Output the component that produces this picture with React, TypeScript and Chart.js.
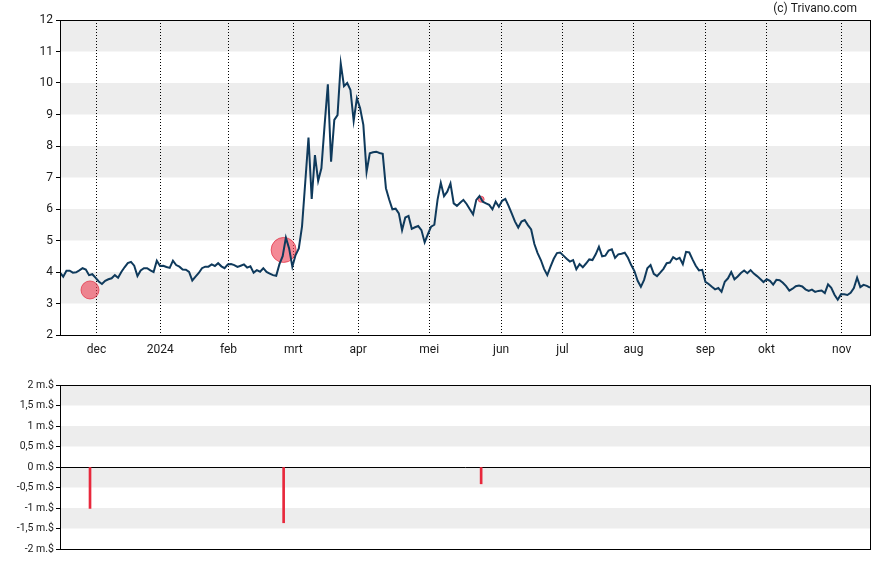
import React, { useEffect, useRef } from "react";
import { Chart, registerables } from "chart.js";

Chart.register(...registerables);

// Daily closing prices (trading days, mid-Nov 2023 .. mid-Nov 2024)
const prices: number[] = [
  3.98, 3.85, 4.04, 4.04, 3.98, 3.99, 4.05, 4.12, 4.08, 3.9,
  3.93, 3.82, 3.7, 3.62, 3.72, 3.77, 3.8, 3.9, 3.82, 4.0,
  4.15, 4.28, 4.32, 4.2, 3.87, 4.05, 4.12, 4.12, 4.05, 4.0,
  4.36, 4.19, 4.2, 4.16, 4.13, 4.36, 4.22, 4.17, 4.08, 4.07,
  4.0, 3.73, 3.85, 3.97, 4.12, 4.17, 4.17, 4.24, 4.19, 4.28,
  4.18, 4.12, 4.24, 4.25, 4.22, 4.16, 4.2, 4.24, 4.14, 4.18,
  3.98, 4.06, 4.01, 4.12, 4.0, 3.95, 3.9, 3.88, 4.25, 4.5,
  5.09, 4.75, 4.17, 4.54, 4.75, 5.45, 6.85, 8.27, 6.32, 7.71,
  6.89, 7.29, 8.67, 9.96, 7.5, 8.83, 8.98, 10.62, 9.9, 10.0,
  9.78, 8.8, 9.51, 9.2, 8.67, 7.18, 7.77, 7.8, 7.82, 7.78,
  7.75, 6.66, 6.3, 5.99, 6.01, 5.86, 5.33, 5.73, 5.78, 5.37,
  5.42, 5.46, 5.33, 4.94, 5.2, 5.44, 5.5, 6.3, 6.83, 6.41,
  6.55, 6.81, 6.18, 6.1, 6.2, 6.29, 6.16, 5.99, 5.83, 6.29,
  6.41, 6.23, 6.18, 6.13, 5.99, 6.23, 6.07, 6.26, 6.32, 6.1,
  5.85, 5.6, 5.41, 5.6, 5.65, 5.49, 5.35, 4.89, 4.6, 4.38,
  4.1, 3.9, 4.17, 4.42, 4.6, 4.62, 4.52, 4.42, 4.33, 4.38,
  4.09, 4.25, 4.15, 4.27, 4.4, 4.38, 4.56, 4.8, 4.5, 4.52,
  4.68, 4.72, 4.45, 4.56, 4.58, 4.61, 4.45, 4.22, 4.03, 3.72,
  3.53, 3.75, 4.12, 4.22, 3.94, 3.87, 3.98, 4.1, 4.28, 4.3,
  4.47, 4.4, 4.45, 4.25, 4.64, 4.62, 4.4, 4.2, 4.05, 4.07,
  3.69, 3.62, 3.53, 3.45, 3.49, 3.37, 3.69, 3.8, 4.0, 3.77,
  3.86, 3.97, 4.05, 3.96, 4.06, 3.95, 3.87, 3.78, 3.68, 3.77,
  3.72, 3.6, 3.75, 3.74, 3.66, 3.55, 3.41, 3.47, 3.55, 3.57,
  3.54, 3.45, 3.4, 3.44, 3.37, 3.4, 3.41, 3.33, 3.61, 3.5,
  3.28, 3.12, 3.29, 3.29, 3.27, 3.34, 3.49, 3.82, 3.52, 3.59,
  3.56, 3.5,
];

// Month boundaries (position in trading-day index) and labels
const monthTickPos: number[] = [11.3, 31.1, 52.2, 72.3, 92.4, 114.4, 136.7, 155.7, 177.7, 200.0, 218.9, 242.2];
const monthLabels: string[] = ["dec", "2024", "feb", "mrt", "apr", "mei", "jun", "jul", "aug", "sep", "okt", "nov"];

const priceTicks: number[] = [2, 3, 4, 5, 6, 7, 8, 9, 10, 11, 12];
const priceBands: number[][] = [[3, 4], [5, 6], [7, 8], [9, 10], [11, 12]];

// Insider trades
const tradeIdx: number[] = [9.3, 69.3, 130.5];
const tradePrice: number[] = [3.43, 4.7, 6.31];
const tradeRadius: number[] = [9, 12.5, 3];
const tradeAmounts: number[] = [-1.01, -1.36, -0.41]; // million $

const amountTicks: number[] = [-2, -1.5, -1, -0.5, 0, 0.5, 1, 1.5, 2];
const amountBands: number[][] = [[1.5, 2], [0.5, 1], [-0.5, 0], [-1.5, -1]];

const FONT = "Roboto";
const TEXT = "#1a1a1a";

function bandsPlugin(bands: number[][]) {
  return {
    id: "bands",
    beforeDraw(chart: any) {
      const { ctx, chartArea, scales } = chart;
      const y = scales.y;
      ctx.save();
      ctx.fillStyle = "#ededed";
      bands.forEach(([a, b]) => {
        const y1 = y.getPixelForValue(b);
        const y2 = y.getPixelForValue(a);
        ctx.fillRect(chartArea.left, y1, chartArea.right - chartArea.left, y2 - y1);
      });
      ctx.restore();
    },
  };
}

const framePlugin = {
  id: "frame",
  afterDraw(chart: any) {
    const { ctx, chartArea } = chart;
    ctx.save();
    ctx.strokeStyle = "#000";
    ctx.lineWidth = 1;
    ctx.strokeRect(
      Math.round(chartArea.left) + 0.5,
      Math.round(chartArea.top) + 0.5,
      Math.round(chartArea.right - chartArea.left),
      Math.round(chartArea.bottom - chartArea.top)
    );
    ctx.restore();
  },
};

const creditPlugin = {
  id: "credit",
  afterDraw(chart: any) {
    const { ctx } = chart;
    ctx.save();
    ctx.font = `12px ${FONT}`;
    ctx.fillStyle = TEXT;
    ctx.textAlign = "right";
    ctx.textBaseline = "middle";
    ctx.fillText("(c) Trivano.com", 857, 9);
    ctx.restore();
  },
};

export default function App() {
  const topRef = useRef<HTMLCanvasElement | null>(null);
  const botRef = useRef<HTMLCanvasElement | null>(null);

  useEffect(() => {
    const top = new Chart(topRef.current as HTMLCanvasElement, {
      type: "line",
      data: {
        datasets: [
          {
            type: "line",
            data: prices.map((v, i) => ({ x: i, y: v })),
            borderColor: "#0f3a5c",
            borderWidth: 2,
            pointRadius: 0,
            tension: 0,
            fill: false,
            order: 0,
          } as any,
          {
            type: "scatter",
            data: tradeIdx.map((x, i) => ({ x, y: tradePrice[i] })),
            backgroundColor: "rgba(236, 60, 80, 0.6)",
            borderColor: "rgba(226, 50, 70, 0.75)",
            borderWidth: 1,
            pointRadius: tradeRadius,
            order: 1,
          } as any,
        ],
      },
      options: {
        responsive: false,
        animation: false,
        layout: { padding: { top: 20, right: 18, left: 0, bottom: 0 } },
        plugins: { legend: { display: false }, tooltip: { enabled: false } },
        scales: {
          x: {
            type: "linear",
            min: 0,
            max: prices.length - 1,
            offset: false,
            afterBuildTicks: (s: any) => {
              s.ticks = monthTickPos.map((v) => ({ value: v }));
            },
            afterFit: (s: any) => {
              s.height = 30;
            },
            ticks: {
              autoSkip: false,
              maxRotation: 0,
              padding: 8,
              color: TEXT,
              font: { family: FONT, size: 12 },
              callback: (_v: any, idx: number) => monthLabels[idx],
            },
            grid: { color: "#000", lineWidth: 1, drawTicks: false },
            border: { display: true, color: "#000", dash: [1, 2] },
          } as any,
          y: {
            min: 2,
            max: 12,
            afterBuildTicks: (s: any) => {
              s.ticks = priceTicks.map((v) => ({ value: v }));
            },
            afterFit: (s: any) => {
              s.width = 60;
            },
            ticks: { color: TEXT, padding: 3, font: { family: FONT, size: 12 } },
            grid: { drawOnChartArea: false, drawTicks: true, tickLength: 4, tickColor: "#000" },
            border: { display: true, color: "#000" },
          } as any,
        },
      },
      plugins: [bandsPlugin(priceBands), framePlugin, creditPlugin],
    } as any);

    const bot = new Chart(botRef.current as HTMLCanvasElement, {
      type: "bar",
      data: {
        datasets: [
          {
            data: tradeIdx.map((x, i) => ({ x, y: tradeAmounts[i] })),
            backgroundColor: "#e8283c",
            borderWidth: 0,
            barThickness: 2,
          } as any,
        ],
      },
      options: {
        responsive: false,
        animation: false,
        layout: { padding: { top: 20, right: 18, left: 0, bottom: 16 } },
        plugins: { legend: { display: false }, tooltip: { enabled: false } },
        scales: {
          x: {
            type: "linear",
            min: 0,
            max: prices.length - 1,
            offset: false,
            grid: { offset: false },
            display: false,
          } as any,
          y: {
            min: -2,
            max: 2,
            afterBuildTicks: (s: any) => {
              s.ticks = amountTicks.map((v) => ({ value: v }));
            },
            afterFit: (s: any) => {
              s.width = 60;
            },
            ticks: {
              color: TEXT,
              padding: 2,
              font: { family: FONT, size: 10.5 },
              callback: (v: any) => `${String(v).replace(".", ",")} m.$`,
            },
            grid: {
              drawOnChartArea: true,
              drawTicks: true,
              tickLength: 4,
              tickColor: "#000",
              color: (c: any) => (c.tick && c.tick.value === 0 ? "#000" : "rgba(0,0,0,0)"),
            },
            border: { display: true, color: "#000" },
          } as any,
        },
      },
      plugins: [bandsPlugin(amountBands), framePlugin],
    } as any);

    return () => {
      top.destroy();
      bot.destroy();
    };
  }, []);

  return (
    <div style={{ position: "absolute", left: 0, top: 0, width: 888, height: 565, background: "#fff" }}>
      <canvas ref={topRef} width={888} height={365} style={{ position: "absolute", left: 0, top: 0 }} />
      <canvas ref={botRef} width={888} height={200} style={{ position: "absolute", left: 0, top: 365 }} />
    </div>
  );
}
